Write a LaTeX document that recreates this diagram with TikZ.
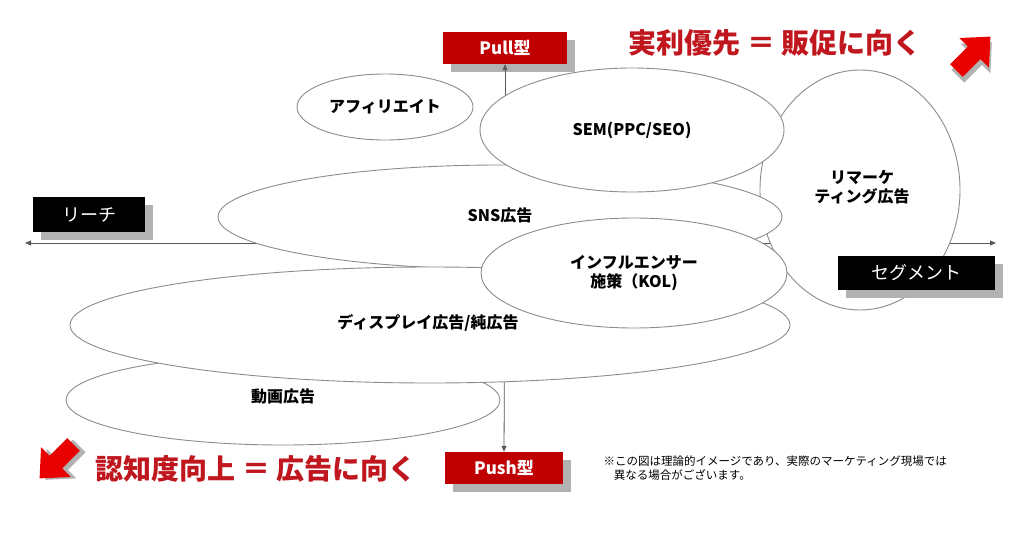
\documentclass[tikz,border=0pt]{standalone}
\usepackage{fontspec}
\setmainfont{Noto Sans CJK JP}
\usetikzlibrary{arrows.meta}
\definecolor{boxred}{HTML}{C00000}
\definecolor{txtred}{HTML}{C0161E}
\definecolor{arrred}{HTML}{E80000}
\begin{document}
\begin{tikzpicture}[x=1pt,y=-1pt,
  ell/.style={draw=black!45,line width=0.9pt,fill=white},
  lab/.style={font=\fontsize{16}{19}\selectfont\bfseries,align=center},
  blk/.style={fill=black,text=white,font=\fontsize{18}{20}\selectfont,minimum width=112,minimum height=35,inner sep=0},
  rbox/.style={fill=boxred,text=white,font=\fontsize{17}{20}\selectfont\bfseries,minimum width=120,minimum height=32,inner sep=0},
  shadow/.style={fill=black!30},
  axis/.style={draw=black!65,line width=0.8pt,-{Triangle[length=6pt,width=5pt]}},
  big/.style={text=txtred,font=\fontsize{28}{30}\selectfont\bfseries}]
\useasboundingbox (0,0) rectangle (1024,543);
\fill[white] (0,0) rectangle (1024,543);
% label boxes with shadows
\fill[shadow] (41,205) rectangle (153,240);
\node[blk] (reach) at (89,214.5) {リーチ};
\fill[shadow] (451,40) rectangle (575,72);
\node[rbox,minimum width=124] (pull) at (505,48) {Pull型};
\fill[shadow] (453,460) rectangle (571,492);
\node[rbox,minimum width=118] (push) at (504,468) {Push型};
% axes
\coordinate (L) at (25,243); \coordinate (R) at (996,243);
\coordinate (C) at (505,243);
\draw[axis] (C) -- (L);
\draw[axis] (C) -- (R);
\draw[axis] (C) -- (pull.south);
\draw[axis] (C) -- (push.north);
% ellipses
\draw[ell] (385,107) ellipse [x radius=88,y radius=33];
\node[lab] (aff) at (385,107) {アフィリエイト};
\draw[ell] (860,190) ellipse [x radius=100,y radius=120];
\node[lab] (rem) at (862,187) {リマーケ\\ティング広告};
\draw[ell] (500,217) ellipse [x radius=282,y radius=52];
\node[lab] (sns) at (500,215) {SNS広告};
\draw[ell] (632,130) ellipse [x radius=152,y radius=62];
\node[lab] (sem) at (632,130) {SEM(PPC/SEO)};
\draw[ell] (283,400) ellipse [x radius=217,y radius=45];
\node[lab] (vid) at (283,396) {動画広告};
\draw[ell] (430,325) ellipse [x radius=360,y radius=58];
\node[lab] (disp) at (428,323) {ディスプレイ広告/純広告};
\draw[ell] (634,273) ellipse [x radius=153,y radius=55];
\node[lab] (kol) at (634,273) {インフルエンサー\\施策（KOL)};
% segment box on top
\fill[shadow] (846,264) rectangle (1003,298);
\node[blk,minimum width=157,minimum height=34] (seg) at (916.5,273) {セグメント};
% big texts
\node[big] (t1) at (775,43) {実利優先 ＝ 販促に向く};
\node[big] (t2) at (256,469) {認知度向上 ＝ 広告に向く};
\node[font=\fontsize{11.5}{14}\selectfont,align=left,anchor=north west] (note) at (600,452) {※この図は理論的イメージであり、実際のマーケティング現場では\\\hspace{0.9em}異なる場合がございます。};
% block arrows
\def\barrow{(-22,-9) -- (3,-9) -- (3,-21) -- (26,0) -- (3,21) -- (3,9) -- (-22,9) -- cycle}
\begin{scope}[shift={(972,55)},rotate=45]
 \fill[black!30,shift={(-3,5)}] \barrow;
 \fill[arrred] \barrow;
\end{scope}
\begin{scope}[shift={(58,460)},rotate=225]
 \fill[black!30,shift={(-3,-5)}] \barrow;
 \fill[arrred] \barrow;
\end{scope}
\end{tikzpicture}
\end{document}
